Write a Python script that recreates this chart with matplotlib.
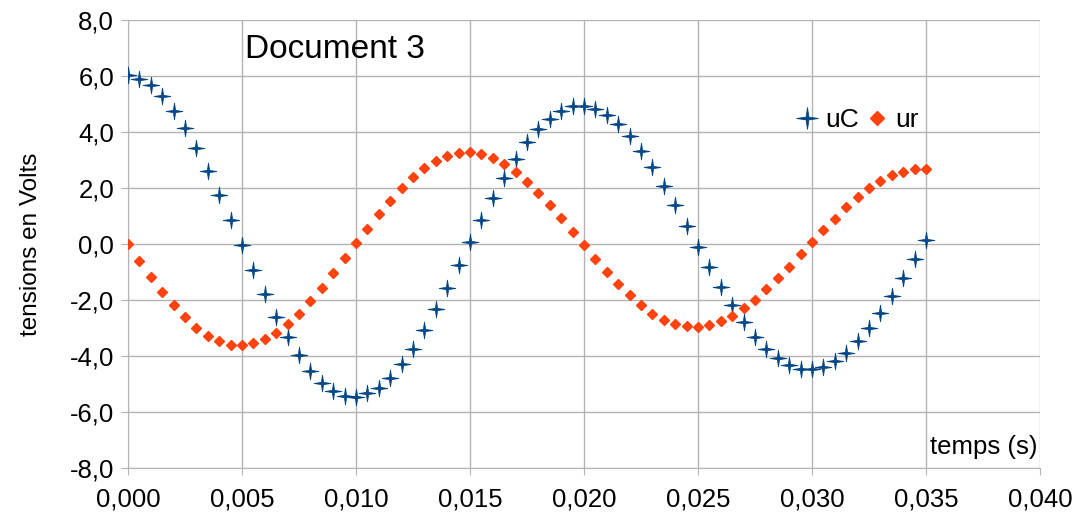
import matplotlib.pyplot as plt
from matplotlib.path import Path
from matplotlib.ticker import FuncFormatter, MultipleLocator

plt.rcParams["font.family"] = ["Liberation Sans", "DejaVu Sans"]

# time samples every 0.5 ms
t = [i * 0.0005 for i in range(71)]

uC = [
    6.02, 5.90, 5.67, 5.27, 4.75, 4.14, 3.42, 2.62, 1.76, 0.87,
    -0.02, -0.92, -1.79, -2.60, -3.33, -3.98, -4.54, -4.95, -5.25, -5.43,
    -5.46, -5.32, -5.13, -4.77, -4.30, -3.74, -3.07, -2.33, -1.56, -0.76,
    0.06, 0.87, 1.64, 2.37, 3.05, 3.63, 4.10, 4.48, 4.76, 4.92,
    4.94, 4.83, 4.62, 4.30, 3.85, 3.33, 2.74, 2.07, 1.38, 0.63,
    -0.11, -0.83, -1.52, -2.19, -2.79, -3.31, -3.74, -4.07, -4.31, -4.45,
    -4.48, -4.38, -4.17, -3.88, -3.48, -3.00, -2.45, -1.86, -1.20, -0.55,
    0.13,
]

ur = [
    0.00, -0.60, -1.17, -1.70, -2.19, -2.62, -2.99, -3.29, -3.48, -3.60,
    -3.61, -3.55, -3.40, -3.17, -2.86, -2.49, -2.05, -1.57, -1.05, -0.50,
    0.03, 0.55, 1.07, 1.55, 2.00, 2.38, 2.71, 2.98, 3.15, 3.25,
    3.27, 3.20, 3.06, 2.85, 2.56, 2.21, 1.82, 1.38, 0.92, 0.44,
    -0.05, -0.54, -1.00, -1.44, -1.83, -2.19, -2.49, -2.70, -2.86, -2.94,
    -2.96, -2.89, -2.76, -2.56, -2.30, -1.99, -1.62, -1.21, -0.81, -0.37,
    0.07, 0.50, 0.90, 1.31, 1.68, 1.99, 2.25, 2.45, 2.58, 2.67,
    2.67,
]

BLUE = "#004586"
ORANGE = "#ff420e"
GRID = "#b3b3b3"

# thin four-pointed star like the spreadsheet's marker
w = 0.13
star = Path([(0, 1), (w, w), (1, 0), (w, -w), (0, -1), (-w, -w), (-1, 0), (-w, w), (0, 1)],
            [Path.MOVETO] + [Path.LINETO] * 7 + [Path.CLOSEPOLY])

fig = plt.figure(figsize=(10.74, 5.2), dpi=100)
ax = fig.add_axes([128 / 1074, 52 / 520, 912 / 1074, 448 / 520])

ax.plot(t, uC, linestyle="none", marker=star, markersize=12,
        color=BLUE, markeredgewidth=0.6, label="uC", zorder=3)
ax.plot(t, ur, linestyle="none", marker="D", markersize=5.5,
        color=ORANGE, label="ur", zorder=3)

ax.set_xlim(0, 0.040)
ax.set_ylim(-8, 8)
ax.xaxis.set_major_locator(MultipleLocator(0.005))
ax.yaxis.set_major_locator(MultipleLocator(2))
ax.xaxis.set_major_formatter(FuncFormatter(lambda v, p: f"{v:.3f}".replace(".", ",")))
ax.yaxis.set_major_formatter(FuncFormatter(lambda v, p: f"{v:.1f}".replace(".", ",")))

ax.grid(color=GRID, linewidth=1)
ax.set_axisbelow(True)
for side in ["top", "right"]:
    ax.spines[side].set_visible(False)
for side in ["left", "bottom"]:
    ax.spines[side].set_color(GRID)
ax.tick_params(direction="out", length=5, color=GRID, labelsize=18.5)
ax.tick_params(axis="x", pad=9)
ax.tick_params(axis="y", pad=5)

ax.set_ylabel("tensions en Volts", fontsize=17.5, labelpad=20)
ax.text(0.9975, 0.02, "temps (s)", transform=ax.transAxes,
        ha="right", va="bottom", fontsize=18.5)
ax.text(0.128, 0.935, "Document 3", transform=ax.transAxes,
        ha="left", va="center", fontsize=24)

ax.legend(loc="upper left", bbox_to_anchor=(0.7245, 0.827), ncol=2, frameon=False,
          fontsize=19, markerscale=1.3, handlelength=0.6, handletextpad=0.4,
          columnspacing=0.35, borderaxespad=0)

fig.savefig("out.png", dpi=100)
